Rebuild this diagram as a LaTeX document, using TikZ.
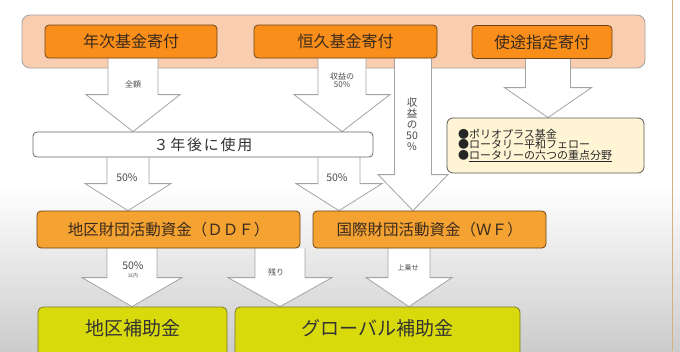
\documentclass[tikz,border=0pt]{standalone}
\usepackage{fontspec}
\setmainfont{Noto Sans CJK JP}
\newfontfamily\jpwide[LetterSpace=12]{Noto Sans CJK JP}
\usetikzlibrary{calc}
\pgfdeclarelayer{back}
\pgfdeclarelayer{mid}
\pgfsetlayers{back,mid,main}
\definecolor{bandpeach}{HTML}{F8CDB0}
\definecolor{orangetop}{HTML}{F98E1A}
\definecolor{orangefund}{HTML}{F4A232}
\definecolor{orangeedge}{HTML}{6E4318}
\definecolor{grantyellow}{HTML}{D8DA0C}
\definecolor{grantedge}{HTML}{7C7A28}
\definecolor{notecream}{HTML}{FFF4D4}
\definecolor{inkdark}{HTML}{3A2A1C}
\definecolor{arrowgray}{HTML}{A4A4A4}
\definecolor{edgetan}{HTML}{D2B27A}
\tikzset{
  topbox/.style={draw=orangeedge, fill=orangetop, line width=0.8pt, rounded corners=4pt,
    minimum height=33pt, inner sep=0pt, text=inkdark, font=\fontsize{16}{16}\selectfont},
  fundbox/.style={topbox, fill=orangefund, minimum height=37pt, font=\fontsize{15.5}{15.5}\selectfont},
  usebox/.style={draw=gray!80!black, fill=white, line width=0.8pt, rounded corners=4pt,
    minimum height=25pt, inner sep=0pt, text=black!80, font=\jpwide\fontsize{15}{15}\selectfont},
  grantbox/.style={draw=grantedge, fill=grantyellow, line width=0.8pt, rounded corners=5pt,
    minimum height=58pt, inner sep=0pt, text depth=16pt, text=black!80, font=\fontsize{19}{19}\selectfont},
  notebox/.style={draw=gray!70!black, fill=notecream, line width=0.8pt, rounded corners=6pt,
    minimum height=55pt, inner xsep=11pt, text width=175pt, align=left, text=black!85,
    font=\fontsize{11}{10.5}\selectfont},
  fatarr/.style={draw=arrowgray, fill=white, line width=0.8pt, line join=miter},
  arrlbl/.style={inner sep=0pt, text=black!70, align=center}
}
\newcommand{\fatarrow}[6]{%
  \draw[fatarr] let \p1=(#2.south), \p2=(#3.north) in
    (#1-#4,\y1) -- (#1-#4,\y2+#6) -- (#1-#5,\y2+#6) -- (#1,\y2)
    -- (#1+#5,\y2+#6) -- (#1+#4,\y2+#6) -- (#1+#4,\y1);}
\begin{document}
\begin{tikzpicture}[x=1pt, y=-1pt]
\useasboundingbox (0,0) rectangle (680,351);
\clip (0,0) rectangle (680,351);
\begin{pgfonlayer}{back}
\fill[white] (0,0) rectangle (680,351);
\shade[top color=white, bottom color=black!20] (0,185) rectangle (680,351);
\draw[edgetan, line width=0.8pt] (672,0) -- (672,351);
\node[draw=arrowgray, fill=bandpeach, line width=0.8pt, rounded corners=8pt,
  minimum width=623pt, minimum height=53pt] (band) at (333.5,41.5) {};
\end{pgfonlayer}

\node[topbox, minimum width=172pt] (nenji) at (131,41.5) {年次基金寄付};
\node[topbox, minimum width=183pt] (koukyu) at (345.5,41.5) {恒久基金寄付};
\node[topbox, minimum width=140pt] (shito) at (542,42) {使途指定寄付};
\node[usebox, minimum width=340pt] (sannen) at (203,144.5) {３年後に使用};
\node[notebox] (note) at (545.5,145.5)
  {●ポリオプラス基金\\●ロータリー平和フェロー\\●\underline{ロータリーの六つの重点分野}};
\node[fundbox, minimum width=263pt] (ddf) at (168.5,229.5) {地区財団活動資金（ＤＤＦ）};
\node[fundbox, minimum width=233pt] (wf) at (429.5,229.5) {国際財団活動資金（ＷＦ）};
\node[grantbox, minimum width=189pt] (chiku) at (132.5,336) {地区補助金};
\node[grantbox, minimum width=285pt] (global) at (377.5,336) {グローバル補助金};

\begin{pgfonlayer}{mid}
\fatarrow{133}{nenji}{sannen}{25}{47}{37}
\fatarrow{342}{koukyu}{sannen}{24}{48}{37}
\fatarrow{413}{koukyu}{wf}{18.5}{35}{36}
\fatarrow{548}{shito}{note}{22.5}{43.5}{30}
\fatarrow{128}{sannen}{ddf}{21}{43}{27}
\fatarrow{339}{sannen}{wf}{21}{43}{27}
\fatarrow{132}{ddf}{chiku}{25}{50}{29}
\fatarrow{280}{ddf}{global}{25}{52}{29}
\fatarrow{409}{wf}{global}{21}{43}{29}
\end{pgfonlayer}

\node[arrlbl, font=\fontsize{8}{8}\selectfont] (zengaku) at (133,84) {全額};
\node[arrlbl, font=\fontsize{8}{8}\selectfont] (shueki) at (342,80) {収益の\\50\%};
\node[arrlbl, font=\fontsize{10.5}{11}\selectfont] (shuekiv) at (412,124) {収\\益\\の\\50\\\%};
\node[arrlbl, font=\fontsize{10.5}{10.5}\selectfont] (half1) at (127,178) {50\%};
\node[arrlbl, font=\fontsize{10.5}{10.5}\selectfont] (half2) at (337,178) {50\%};
\node[arrlbl, font=\fontsize{10.5}{9}\selectfont] (inai) at (133,270) {50\%\\[-1pt]{\fontsize{5}{5}\selectfont 以内}};
\node[arrlbl, font=\fontsize{8}{8}\selectfont] (nokori) at (276,272) {残り};
\node[arrlbl, font=\fontsize{7}{7}\selectfont] (uwanose) at (408,268) {上乗せ};
\end{tikzpicture}
\end{document}
